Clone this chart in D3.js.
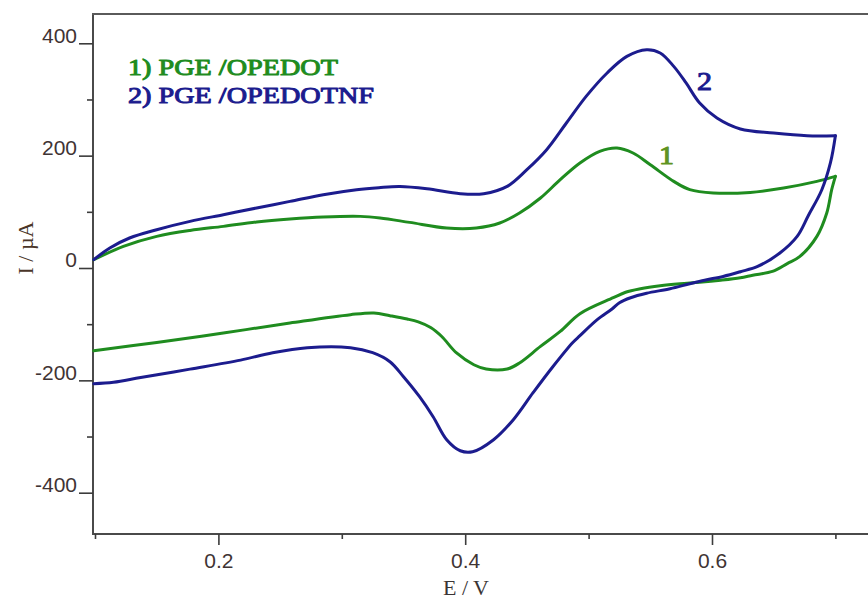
<!DOCTYPE html>
<html>
<head>
<meta charset="utf-8">
<script src="https://cdn.jsdelivr.net/npm/d3@7"></script>
<style>
  html, body { margin: 0; padding: 0; background: #fff; }
  svg { display: block; }
</style>
</head>
<body>
<svg id="chart" width="868" height="600"></svg>
<script>
// Cyclic voltammograms, E / V against I / µA, one forward (anodic) and one reverse (cathodic) sweep per electrode

// 1) PGE /OPEDOT
const opedotForward = [
  [0.099, 14.8], [0.123, 38.5], [0.150, 56.3], [0.177, 66.9], [0.204, 74.1], [0.231, 81.9],
  [0.258, 87.2], [0.285, 90.8], [0.315, 91.9], [0.331, 89.0], [0.355, 81.2], [0.385, 71.2],
  [0.409, 71.2], [0.428, 80.1], [0.444, 97.9], [0.461, 124.6], [0.477, 157.2], [0.493, 186.9],
  [0.509, 207.6], [0.523, 213.6], [0.536, 204.7], [0.550, 183.9], [0.569, 154.2], [0.582, 139.4],
  [0.601, 133.5], [0.631, 134.6], [0.658, 142.4], [0.685, 154.2], [0.700, 163.1]
];
const opedotReverse = [
  [0.700, 163.1], [0.697, 139.4], [0.693, 97.9], [0.685, 56.3], [0.671, 20.1], [0.661, 7.7],
  [0.649, -6.1], [0.633, -12.8], [0.623, -17.3], [0.607, -21.7], [0.590, -25.3], [0.574, -27.9],
  [0.558, -31.5], [0.542, -36.9], [0.530, -43.1], [0.520, -52.9], [0.493, -81.4], [0.477, -112.9],
  [0.461, -139.6], [0.444, -169.1], [0.434, -179.8], [0.417, -179.8], [0.407, -172.2], [0.393, -151.3],
  [0.381, -122.0], [0.372, -106.0], [0.362, -96.0], [0.353, -90.8], [0.339, -84.9], [0.326, -80.1],
  [0.307, -83.1], [0.258, -97.9], [0.204, -115.7], [0.150, -132.5], [0.099, -147.2]
];

// 2) PGE /OPEDOTNF
const opedotNfForward = [
  [0.099, 14.8], [0.112, 35.6], [0.128, 53.4], [0.150, 68.2], [0.177, 83.0], [0.204, 94.9],
  [0.231, 106.8], [0.258, 118.6], [0.285, 130.5], [0.312, 139.4], [0.330, 143.0], [0.347, 145.0],
  [0.369, 141.0], [0.396, 132.3], [0.415, 132.3], [0.434, 145.3], [0.450, 175.0], [0.466, 210.6],
  [0.482, 258.1], [0.498, 305.5], [0.515, 347.2], [0.531, 376.7], [0.547, 388.6], [0.558, 382.8],
  [0.569, 358.9], [0.579, 329.4], [0.590, 293.7], [0.604, 267.0], [0.623, 247.5], [0.650, 240.3],
  [0.677, 235.5], [0.700, 235.5]
];
const opedotNfReverse = [
  [0.700, 235.5], [0.696, 187.4], [0.689, 139.3], [0.678, 93.1], [0.669, 56.3], [0.655, 26.7],
  [0.637, 2.8], [0.623, -6.6], [0.609, -15.0], [0.594, -21.7], [0.582, -28.0], [0.566, -36.9],
  [0.547, -44.9], [0.534, -52.9], [0.525, -61.8], [0.519, -73.0], [0.507, -92.0], [0.493, -120.5],
  [0.487, -133.0], [0.471, -175.7], [0.455, -222.0], [0.439, -270.1], [0.423, -305.7], [0.406, -327.1],
  [0.396, -325.3], [0.385, -305.7], [0.374, -264.7], [0.363, -229.1], [0.350, -193.5], [0.339, -166.8],
  [0.325, -150.8], [0.307, -141.9], [0.272, -141.9], [0.244, -150.8], [0.218, -164.0], [0.177, -180.0],
  [0.137, -195.0], [0.115, -203.5], [0.099, -206.0]
];

const legendLabels = ["1) PGE /OPEDOT", "2) PGE /OPEDOTNF"];
const curveLabels = ["1", "2"];
const xMajorTicks = [0.2, 0.4, 0.6];
const xMinorTicks = [0.1, 0.3, 0.5, 0.7];
const yMajorTicks = [-400, -200, 0, 200, 400];
const yMinorTicks = [-300, -100, 100, 300];

const GREEN = "#1f8c1f";
const BLUE = "#1c1c8e";

const svg = d3.select("#chart");

const frame = { left: 93, top: 14, right: 870, bottom: 534 };
const x = d3.scaleLinear().domain([0.1, 0.7]).range([95, 835.4]);
const y = d3.scaleLinear().domain([-400, 400]).range([492.7, 43.3]);

const axisColor = "#3c3c3c";
const tickFont = "'Liberation Sans', Arial, sans-serif";
const serif = "'Liberation Serif', 'Times New Roman', serif";

// plot frame: left axis, bottom axis, top border
const frameG = svg.append("g").attr("stroke", "#4a4a4a").attr("stroke-width", 2).attr("fill", "none");
frameG.append("line").attr("x1", frame.left).attr("x2", frame.left).attr("y1", frame.top - 1).attr("y2", frame.bottom + 1);
frameG.append("line").attr("x1", frame.left - 1).attr("x2", frame.right).attr("y1", frame.top).attr("y2", frame.top).attr("stroke", "#5a5a5a");
frameG.append("line").attr("x1", frame.left - 1).attr("x2", frame.right).attr("y1", frame.bottom).attr("y2", frame.bottom);

// x axis
const xAxisG = svg.append("g").attr("transform", `translate(0,${frame.bottom})`)
  .call(d3.axisBottom(x).tickValues(xMajorTicks).tickSize(11).tickSizeOuter(0).tickFormat(d3.format(".1f")));
xAxisG.select(".domain").remove();
xAxisG.selectAll(".tick line").attr("stroke", axisColor).attr("stroke-width", 1.6);
xAxisG.selectAll(".tick text")
  .attr("y", 34).attr("dy", 0)
  .attr("fill", "#3f3434")
  .style("font-family", tickFont).style("font-size", "21px");

const xMinorG = svg.append("g").attr("transform", `translate(0,${frame.bottom})`)
  .call(d3.axisBottom(x).tickValues(xMinorTicks).tickSize(5).tickSizeOuter(0).tickFormat(""));
xMinorG.select(".domain").remove();
xMinorG.selectAll(".tick line").attr("stroke", axisColor).attr("stroke-width", 1.6);

// y axis (plain hyphen for negative values)
const yAxisG = svg.append("g").attr("transform", `translate(${frame.left},0)`)
  .call(d3.axisLeft(y).tickValues(yMajorTicks).tickSize(14).tickPadding(2).tickSizeOuter(0)
    .tickFormat(d => String(d)));
yAxisG.select(".domain").remove();
yAxisG.selectAll(".tick line").attr("stroke", axisColor).attr("stroke-width", 1.6);
yAxisG.selectAll(".tick text")
  .attr("dy", "-0.05em")
  .attr("fill", "#3f3434")
  .style("font-family", tickFont).style("font-size", "21px");

const yMinorG = svg.append("g").attr("transform", `translate(${frame.left},0)`)
  .call(d3.axisLeft(y).tickValues(yMinorTicks).tickSize(6).tickSizeOuter(0).tickFormat(""));
yMinorG.select(".domain").remove();
yMinorG.selectAll(".tick line").attr("stroke", axisColor).attr("stroke-width", 1.6);

// axis titles
svg.append("text")
  .attr("transform", "translate(33,248) rotate(-90)")
  .attr("text-anchor", "middle")
  .attr("fill", "#4a3528")
  .style("font-family", serif).style("font-size", "22px")
  .text("I / µA");

svg.append("text")
  .attr("x", 466).attr("y", 595)
  .attr("text-anchor", "middle")
  .attr("fill", "#3a3434")
  .style("font-family", serif).style("font-size", "22px")
  .text("E / V");

// voltammograms
const line = d3.line()
  .x(d => x(d[0]))
  .y(d => y(d[1]))
  .curve(d3.curveCatmullRom.alpha(0.5));

const sweeps = [
  { data: opedotForward, color: GREEN },
  { data: opedotReverse, color: GREEN },
  { data: opedotNfForward, color: BLUE },
  { data: opedotNfReverse, color: BLUE }
];

svg.append("g").selectAll("path")
  .data(sweeps)
  .join("path")
  .attr("d", d => line(d.data))
  .attr("fill", "none")
  .attr("stroke", d => d.color)
  .attr("stroke-width", 3)
  .attr("stroke-linejoin", "round")
  .attr("stroke-linecap", "round");

// heavy serif labels: regular face thickened with a matching outline and widened
// to the proportions of a bold face
const BOLD_WIDEN = 1.2;
function heavy(sel, color, w) {
  sel.attr("fill", color).attr("stroke", color).attr("stroke-width", w)
    .attr("stroke-linejoin", "round")
    .style("font-family", serif).style("font-weight", "normal");
  return sel;
}
function widen(sel) {
  sel.each(function () {
    const len = this.getComputedTextLength();
    d3.select(this).attr("textLength", len * BOLD_WIDEN).attr("lengthAdjust", "spacingAndGlyphs");
  });
}

// legend
const legend = svg.append("g").selectAll("text")
  .data(legendLabels)
  .join("text")
  .attr("x", 128)
  .attr("y", (d, i) => 75 + i * 28)
  .each(function (d, i) { heavy(d3.select(this), i === 0 ? GREEN : BLUE, 1.0); })
  .style("font-size", "23.5px")
  .text(d => d);
widen(legend);

// curve numbers
const label1 = heavy(svg.append("text"), "#5f9420", 1.0)
  .attr("x", 659).attr("y", 164)
  .style("font-size", "25px")
  .text(curveLabels[0]);
widen(label1);

const label2 = heavy(svg.append("text"), BLUE, 1.0)
  .attr("x", 697).attr("y", 90)
  .style("font-size", "25px")
  .text(curveLabels[1]);
widen(label2);
</script>
</body>
</html>
